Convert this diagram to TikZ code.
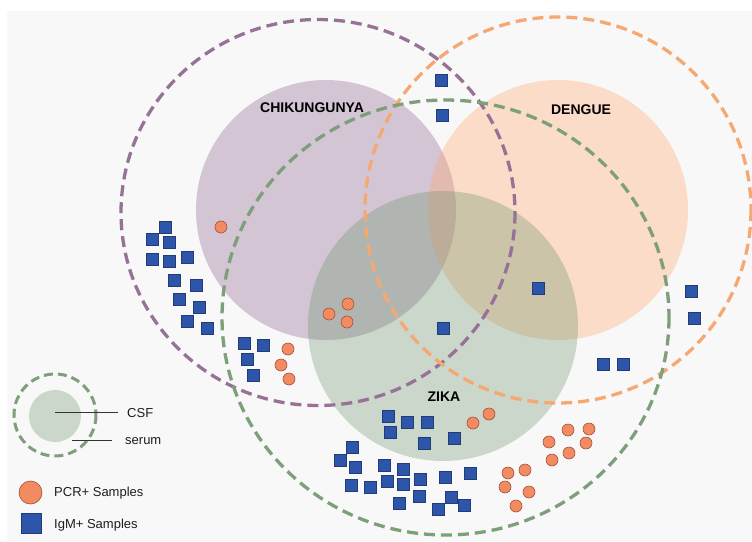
\documentclass[tikz,border=0pt]{standalone}
\usepackage{fontspec}
\setmainfont{Liberation Sans}
\definecolor{bgc}{RGB}{248,248,248}
\definecolor{chikf}{RGB}{150,108,150}
\definecolor{dengf}{RGB}{255,165,105}
\definecolor{zikaf}{RGB}{105,148,105}
\definecolor{chikd}{RGB}{150,115,150}
\definecolor{dengd}{RGB}{246,168,115}
\definecolor{zikad}{RGB}{125,160,122}
\definecolor{sqd}{RGB}{35,60,120}
\definecolor{sqf}{RGB}{45,85,170}
\definecolor{pcd}{RGB}{160,80,55}
\definecolor{pcf}{RGB}{242,138,98}
\definecolor{txt}{RGB}{30,30,30}
\begin{document}
\begin{tikzpicture}[x=1pt,y=-1pt,
  chikc/.style={fill=chikf,fill opacity=0.36,draw=none},
  dengc/.style={fill=dengf,fill opacity=0.33,draw=none},
  zikac/.style={fill=zikaf,fill opacity=0.32,draw=none},
  ring/.style={line width=3.3pt,dash pattern=on 11pt off 6pt},
  sq/.style={draw=sqd,line width=0.6pt,fill=sqf,minimum size=12pt,inner sep=0pt,outer sep=0pt},
  pc/.style={circle,draw=pcd,line width=0.6pt,fill=pcf,minimum size=12pt,inner sep=0pt,outer sep=0pt},
  ttl/.style={font=\bfseries\fontsize{14}{16}\selectfont,text=black},
  lgd/.style={font=\fontsize{13}{15}\selectfont,anchor=west,inner sep=0pt,text=txt}
]
\useasboundingbox (0,0) rectangle (752,541);
\fill[white] (0,0) rectangle (752,541);
\fill[bgc] (7,11) rectangle (752,541);
% filled circles
\fill[chikc] (326,210) circle (130);
\fill[dengc] (558,210) circle (130);
\fill[zikac] (443,326) circle (135);
% dashed rings
\draw[ring,draw=chikd] (318,212.5) ellipse (197 and 193);
\draw[ring,draw=dengd] (558,210) circle (193);
\draw[ring,draw=zikad] (445.5,317.5) ellipse (223.5 and 217.5);
% titles
\node[ttl] (tchik) at (312,108) {CHIKUNGUNYA};
\node[ttl] (tdeng) at (581,110) {DENGUE};
\node[ttl] (tzika) at (444,397) {ZIKA};
% squares
\foreach \x/\y [count=\i] in {165/227,152/239,169/242,152/259,169/261,187/257,174/280,196/285,179/299,199/307,187/321,207/328,
  244/343,263/345,247/359,253/375,
  441/80,442/115,538/288,443/328,691/291,694/318,603/364,623/364,
  388/416,407/422,427/422,390/432,424/443,454/438,
  352/447,340/460,355/467,351/485,370/487,
  384/465,403/469,387/481,403/484,420/479,445/477,470/473,419/496,399/503,451/497,438/509,464/505}
  \node[sq] (s\i) at (\x,\y) {};
% circles
\foreach \x/\y [count=\i] in {221/227,288/349,281/365,289/379,329/314,348/304,347/322,
  473/423,489/414,
  568/430,589/429,549/442,586/443,569/453,552/460,508/473,525/470,505/487,529/492,516/506}
  \node[pc] (c\i) at (\x,\y) {};
% legend
\fill[zikac] (55,416) circle (26);
\draw[ring,line width=3pt,dash pattern=on 9pt off 5pt,draw=zikad] (55,415) circle (41);
\coordinate (csfa) at (55,412);
\coordinate (csfb) at (118,412);
\coordinate (sera) at (72,440);
\coordinate (serb) at (112,440);
\draw[line width=1pt,black!80] (csfa) -- (csfb);
\draw[line width=1pt,black!80] (sera) -- (serb);
\node[lgd] (lcsf) at (127,413) {CSF};
\node[lgd] (lser) at (125,441) {serum};
\node[pc,minimum size=23pt] (lpc) at (30.5,492.5) {};
\node[sq,minimum size=20pt] (lsq) at (31,523) {};
\node[lgd] (lpct) at (54,493) {PCR+ Samples};
\node[lgd] (lsqt) at (54,525) {IgM+ Samples};
\end{tikzpicture}
\end{document}
